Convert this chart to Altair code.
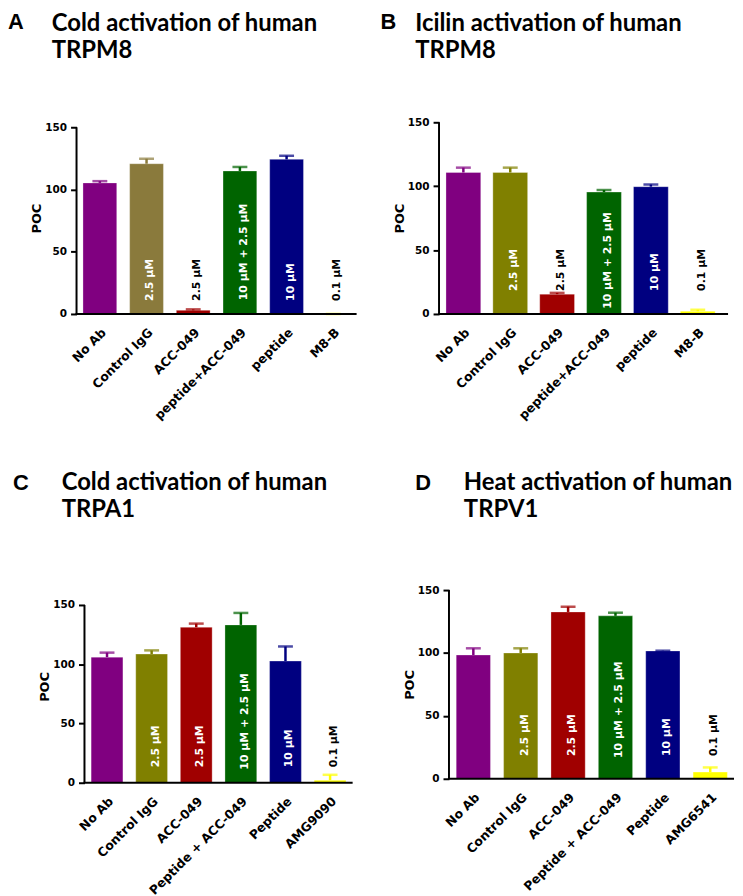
import altair as alt
import pandas as pd

# ---------------- data ----------------
cats_AB = ["No Ab", "Control IgG", "ACC-049", "peptide+ACC-049", "peptide", "M8-B"]
cats_C = ["No Ab", "Control IgG", "ACC-049", "Peptide + ACC-049", "Peptide", "AMG9090"]
cats_D = ["No Ab", "Control IgG", "ACC-049", "Peptide + ACC-049", "Peptide", "AMG6541"]
conc_labels = ["", "2.5 µM", "2.5 µM", "10 µM + 2.5 µM", "10 µM", "0.1 µM"]

mean_A = [105.3, 120.7, 2.9, 114.9, 124.2, 0.0]
upper_A = [106.7, 124.7, 3.7, 118.1, 127.1, 0.0]
mean_B = [110.7, 110.7, 15.5, 95.4, 99.6, 2.1]
upper_B = [114.5, 114.5, 16.5, 97.0, 101.3, 3.3]
mean_C = [106.0, 108.6, 131.2, 133.2, 102.7, 2.2]
upper_C = [109.8, 111.7, 134.3, 143.3, 115.0, 6.7]
mean_D = [98.4, 100.0, 132.6, 129.5, 101.6, 5.3]
upper_D = [103.7, 103.7, 136.8, 132.0, 101.8, 9.0]

colors_A = ["#800080", "#8A7A3C", "#A00000", "#006400", "#000080", "#FFFF00"]
colors_BCD = ["#800080", "#808000", "#A00000", "#006400", "#000080", "#FFFF00"]

titles_A = ["A", "Cold activation of human", "TRPM8"]
titles_B = ["B", "Icilin activation of human", "TRPM8"]
titles_C = ["C", "Cold activation of human", "TRPA1"]
titles_D = ["D", "Heat activation of human", "TRPV1"]

y_ticks = [0, 50, 100, 150]

LBL_FONT = "DejaVu Sans"
TITLE_FONT = "Lato"
LETTER_FONT = "Liberation Sans"


def panel(titles, cats, means, uppers, colors, width, height, ymax, axis_x,
          x_end, rng, pin, pout, base_short, base_long, letter_pos, title_pos):
    df = pd.DataFrame({"cat": cats, "value": means, "upper": uppers,
                       "label": conc_labels, "col": colors})
    xscale = alt.Scale(range=rng, paddingInner=pin, paddingOuter=pout)
    yscale = alt.Scale(domain=[0, ymax], nice=False)
    color = alt.Color("col:N", scale=None, legend=None)

    x_axis = alt.Axis(labelAngle=-45, ticks=False, domain=False,
                      labelFont=LBL_FONT, labelFontWeight="bold",
                      labelFontSize=12.5, labelColor="black", labelPadding=12)
    y_axis = alt.Axis(values=y_ticks, title="POC", domain=False,
                      grid=False, offset=-axis_x, tickSize=6,
                      tickWidth=2, tickColor="black",
                      labelFont=LBL_FONT, labelFontWeight="bold",
                      labelFontSize=10.5, labelColor="black",
                      labelPadding=4, titleFont=LBL_FONT,
                      titleFontWeight="bold", titleFontSize=13,
                      titleColor="black", titlePadding=1)
    x_enc = alt.X("cat:N", sort=cats, title=None, scale=xscale, axis=x_axis)

    def y_field(f):
        return alt.Y(f, title="POC", scale=yscale, axis=y_axis)

    def y_datum(v):
        return alt.Y(datum=v, title="POC", scale=yscale, axis=y_axis)

    base = alt.Chart(df)
    bars = base.mark_bar(stroke="white", strokeWidth=1, strokeOpacity=0.3).encode(
        x=x_enc, y=y_field("value:Q"), color=color)
    err = base.mark_rule(strokeWidth=2.5).encode(
        x=x_enc, y=y_field("value:Q"), y2=alt.Y2("upper:Q"), color=color)
    cap = base.mark_tick(thickness=2.5, size=15).encode(
        x=x_enc, y=y_field("upper:Q"), color=color)
    labels = base.transform_calculate(
        ly=f"length(datum.label) > 8 ? {base_long} : {base_short}"
    ).mark_text(angle=270, align="left", baseline="middle", dy=4,
                font=LBL_FONT, fontWeight="bold", fontSize=11).encode(
        x=x_enc, y=y_field("ly:Q"),
        text="label:N",
        color=alt.condition(alt.datum.value < 30, alt.value("black"), alt.value("white")))

    one = alt.Chart(pd.DataFrame({"t": [titles[0]], "l1": [titles[1]], "l2": [titles[2]]}))
    y_axis_line = one.mark_rule(strokeWidth=2, color="black").encode(
        x=alt.value(axis_x), y=y_datum(0), y2=alt.Y2(datum=150))
    x_axis_line = one.mark_rule(strokeWidth=2, color="black").encode(
        x=alt.value(axis_x - 1), x2=alt.value(x_end), y=y_datum(0))
    letter = one.mark_text(align="left", baseline="alphabetic", font=LETTER_FONT,
                           fontWeight="bold", fontSize=22, color="black").encode(
        text="t:N", x=alt.value(letter_pos[0]), y=alt.value(letter_pos[1]))
    t1 = one.mark_text(align="left", baseline="alphabetic", font=TITLE_FONT,
                       fontWeight="bold", fontSize=24, color="black").encode(
        text="l1:N", x=alt.value(title_pos[0]), y=alt.value(title_pos[1]))
    t2 = one.mark_text(align="left", baseline="alphabetic", font=TITLE_FONT,
                       fontWeight="bold", fontSize=24, color="black").encode(
        text="l2:N", x=alt.value(title_pos[0]), y=alt.value(title_pos[1] + 27.5))

    return alt.layer(bars, err, cap, labels, y_axis_line, x_axis_line,
                     letter, t1, t2).properties(width=width, height=height)


pA = panel(titles_A, cats_AB, mean_A, upper_A, colors_A, 282, 193, 154.0, 0, 282,
           [0, 282], 0.2766, 0.138, 10.5, 11, (-69, -94), (-25, -92.3))
pB = panel(titles_B, cats_AB, mean_B, upper_B, colors_BCD, 291, 193, 150, 0, 291,
           [0, 285], 0.258, 0.148, 18, 4, (-59, -94), (-24, -92.3))
pC = panel(titles_C, cats_C, mean_C, upper_C, colors_BCD, 282, 194, 162.6, 8, 278,
           [8, 278], 0.287, 0.149, 13, 11, (-64, -101), (-15, -101))
pD = panel(titles_D, cats_D, mean_D, upper_D, colors_BCD, 297, 190, 150, 10, 297,
           [10, 297.6], 0.277, 0.153, 18, 16.5, (-24, -101), (25, -101))

chart = alt.concat(pA, pB, pC, pD, columns=2, spacing={"row": 278, "column": 83},
                   bounds="flush").properties(
    padding={"left": 0, "top": 0, "right": 0, "bottom": 0}
).configure_view(stroke=None)

chart.save("out.html", embed_options={"renderer": "svg", "actions": False})
